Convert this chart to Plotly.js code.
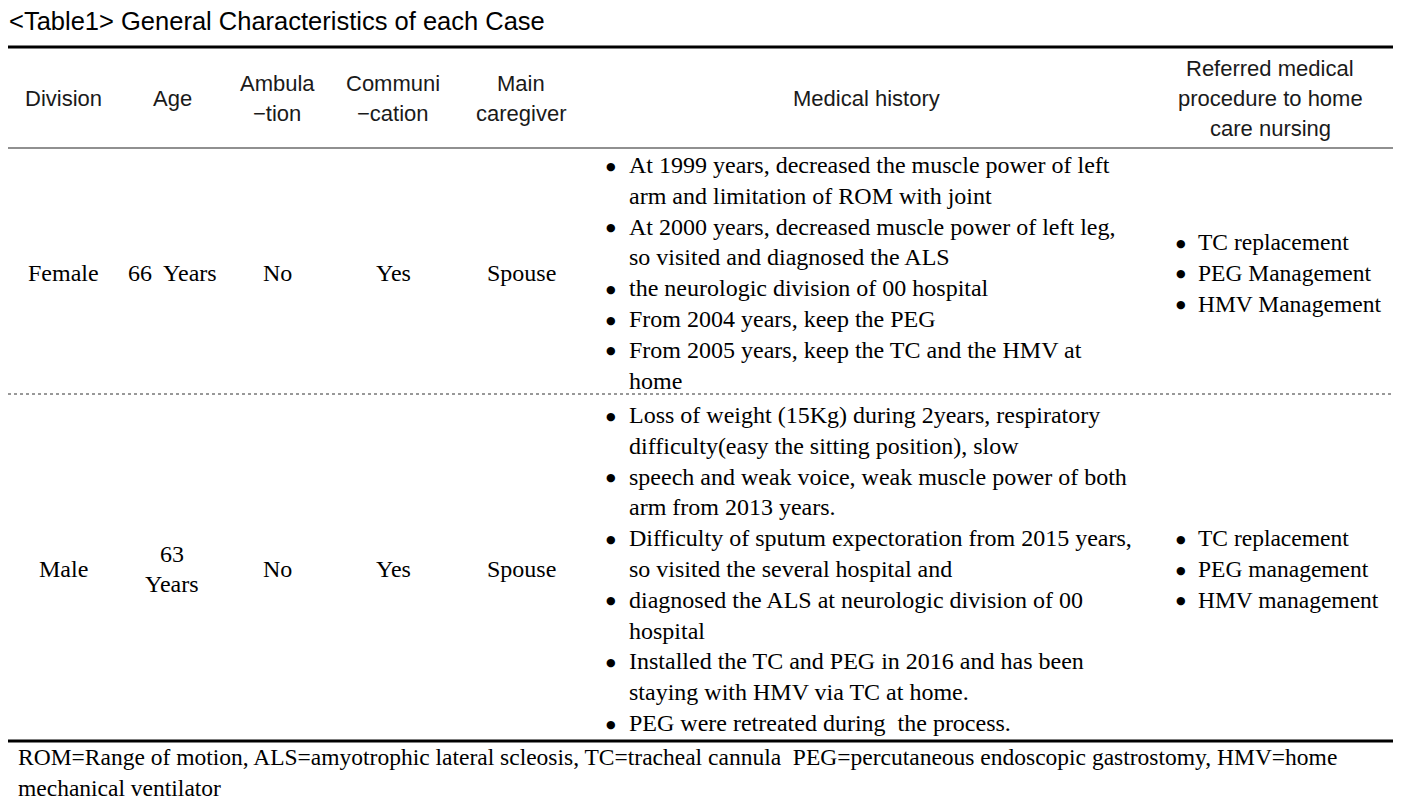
<!DOCTYPE html>
<html>
<head>
<meta charset="utf-8">
<script src="https://cdn.plot.ly/plotly-3.0.1.min.js"></script>
<style>html,body{margin:0;padding:0;background:#fff;}#chart{width:1412px;height:808px;}</style>
</head>
<body>
<div id="chart"></div>
<script>
// ---- data ----
const tableTitle = "&lt;Table1&gt; General Characteristics of each Case";
const headers = [
  ["Division"],
  ["Age"],
  ["Ambula", "\u2212tion"],
  ["Communi", "\u2212cation"],
  ["Main", "caregiver"],
  ["Medical history"],
  ["Referred medical", "procedure to home", "care nursing"]
];
const division = ["Female", "Male"];
const age = [["66  Years"], ["63", "Years"]];
const ambulation = ["No", "No"];
const communication = ["Yes", "Yes"];
const caregiver = ["Spouse", "Spouse"];
const history = [
  [
    ["At 1999 years, decreased the muscle power of left", "arm and limitation of ROM with joint"],
    ["At 2000 years, decreased muscle power of left leg,", "so visited and diagnosed the ALS"],
    ["the neurologic division of 00 hospital"],
    ["From 2004 years, keep the PEG"],
    ["From 2005 years, keep the TC and the HMV at", "home"]
  ],
  [
    ["Loss of weight (15Kg) during 2years, respiratory", "difficulty(easy the sitting position), slow"],
    ["speech and weak voice, weak muscle power of both", "arm from 2013 years."],
    ["Difficulty of sputum expectoration from 2015 years,", "so visited the several hospital and"],
    ["diagnosed the ALS at neurologic division of 00", "hospital"],
    ["Installed the TC and PEG in 2016 and has been", "staying with HMV via TC at home."],
    ["PEG were retreated during  the process."]
  ]
];
const procedures = [
  ["TC replacement", "PEG Management", "HMV Management"],
  ["TC replacement", "PEG management", "HMV management"]
];
const footnote = [
  "ROM=Range of motion, ALS=amyotrophic lateral scleosis, TC=tracheal cannula  PEG=percutaneous endoscopic gastrostomy, HMV=home",
  "mechanical ventilator"
];

// ---- layout constants ----
const W = 1412, H = 808;
const colX = [63, 172, 277, 393, 521, 866, 1270];
const lineH = 30.8;
const headerLineH = 30;
const headerCenter = 98;
const rowFirstLine = [165, 415];
const bulletX = 611, histTextX = 627;
const procBulletX = 1181, procTextX = 1196;
const sans = "Liberation Sans, Arial, sans-serif";
const serif = "Liberation Serif, Times New Roman, serif";
const bulletFont = {family: "DejaVu Sans, sans-serif", size: 11, color: "#000"};
const txtColor = "#000";

const ann = [];
function add(x, y, text, opts) {
  ann.push(Object.assign({
    x: x, y: y, xref: "x", yref: "y", text: text, showarrow: false,
    xanchor: "center", yanchor: "middle",
    font: {family: serif, size: 24, color: txtColor}
  }, opts || {}));
}

// title
add(7, 21, tableTitle, {xanchor: "left", font: {family: sans, size: 25.5, color: "#000"}});

// headers
headers.forEach((lines, c) => {
  const n = lines.length;
  lines.forEach((t, i) => {
    add(colX[c], headerCenter + (i - (n - 1) / 2) * headerLineH, t,
        {font: {family: sans, size: 22, color: "#1a1a1a"}});
  });
});

// rows
for (let r = 0; r < division.length; r++) {
  let allLines = 0;
  history[r].forEach(item => allLines += item.length);
  const center = rowFirstLine[r] + (allLines - 1) / 2 * lineH;
  const simple = [division[r], null, ambulation[r], communication[r], caregiver[r]];
  simple.forEach((v, c) => { if (v !== null) add(colX[c], center, v); });
  const a = age[r];
  a.forEach((t, i) => add(colX[1], center + (i - (a.length - 1) / 2) * lineH, t));
  let k = 0;
  history[r].forEach(item => {
    item.forEach((t, i) => {
      const y = rowFirstLine[r] + k * lineH;
      if (i === 0) add(bulletX, y + 1, "\u25CF", {xanchor: "center", font: bulletFont});
      add(histTextX, y, t, {xanchor: "left"});
      k++;
    });
  });
  const p = procedures[r];
  p.forEach((t, i) => {
    const y = center + (i - (p.length - 1) / 2) * lineH;
    add(procBulletX, y + 1, "\u25CF", {xanchor: "center", font: bulletFont});
    add(procTextX, y, t, {xanchor: "left", font: {family: serif, size: 23.5, color: txtColor}});
  });
}

// footnote
footnote.forEach((t, i) => add(16, 757 + i * lineH, t, {xanchor: "left", font: {family: serif, size: 23.5, color: txtColor}}));

// rules
const shapes = [
  {type: "line", x0: 8, x1: 1393, y0: 47, y1: 47, line: {color: "#000", width: 3}},
  {type: "line", x0: 8, x1: 1393, y0: 148, y1: 148, line: {color: "#222", width: 1.2}},
  {type: "line", x0: 8, x1: 1393, y0: 394, y1: 394, line: {color: "#333", width: 1, dash: "dot"}},
  {type: "line", x0: 8, x1: 1393, y0: 741, y1: 741, line: {color: "#000", width: 3}}
].map(s => Object.assign({xref: "x", yref: "y"}, s));

Plotly.newPlot("chart", [{x: [], y: [], type: "scatter", hoverinfo: "skip"}], {
  width: W, height: H,
  margin: {l: 0, r: 0, t: 0, b: 0},
  paper_bgcolor: "#fff", plot_bgcolor: "#fff",
  showlegend: false,
  xaxis: {range: [0, W], visible: false, fixedrange: true},
  yaxis: {range: [H, 0], visible: false, fixedrange: true},
  annotations: ann,
  shapes: shapes
}, {staticPlot: true, displayModeBar: false});
</script>
</body>
</html>
